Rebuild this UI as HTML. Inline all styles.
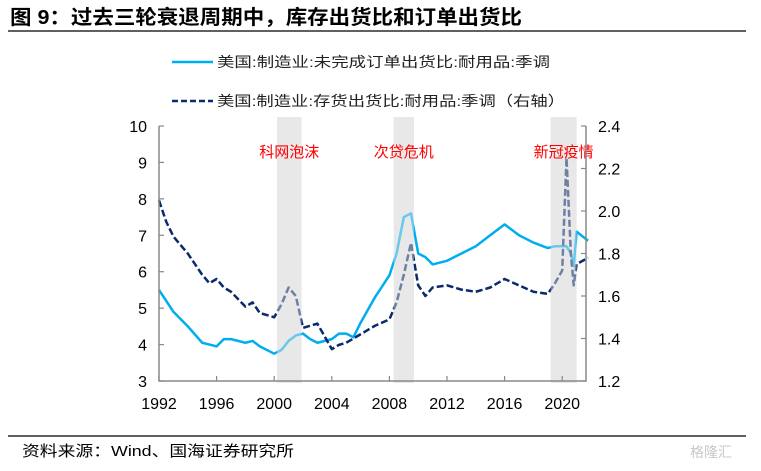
<!DOCTYPE html>
<html><head><meta charset="utf-8">
<style>
body{margin:0;background:#fff;width:761px;height:471px;overflow:hidden;font-family:"Liberation Sans","Noto Sans CJK SC",sans-serif;}
svg{display:block}
</style></head>
<body>
<svg id="chart" width="761" height="471" xmlns="http://www.w3.org/2000/svg">
<text x="10" y="24" font-size="20" font-weight="bold" font-family="'Liberation Sans','Noto Sans CJK SC',sans-serif" fill="#000" textLength="512" lengthAdjust="spacingAndGlyphs">图 9：过去三轮衰退周期中，库存出货比和订单出货比</text>
<line x1="8" y1="31" x2="746" y2="31" stroke="#000" stroke-width="1.2"/>
<g font-size="14" font-family="'Liberation Sans','Noto Sans CJK SC',sans-serif" fill="#222">
<line x1="172" y1="62" x2="213" y2="62" stroke="#00aeef" stroke-width="2.5"/>
<text x="217" y="67" textLength="333" lengthAdjust="spacingAndGlyphs">美国:制造业:未完成订单出货比:耐用品:季调</text>
<line x1="172" y1="101" x2="213" y2="101" stroke="#0b2a6b" stroke-width="2.5" stroke-dasharray="6,3"/>
<text x="217" y="106" textLength="348" lengthAdjust="spacingAndGlyphs">美国:制造业:存货出货比:耐用品:季调（右轴）</text>
</g>
<g id="plot"></g>
<line x1="8" y1="436" x2="746" y2="436" stroke="#000" stroke-width="1.2"/>
<text x="22" y="456" font-size="15" font-family="'Liberation Sans','Noto Sans CJK SC',sans-serif" fill="#000" textLength="272" lengthAdjust="spacingAndGlyphs">资料来源：Wind、国海证券研究所</text>
<text x="690" y="457" font-size="14" font-family="'Liberation Sans','Noto Sans CJK SC',sans-serif" fill="#c8c8c8">格隆汇</text>
</svg>
<script>
const years=[1992,1992.5,1993,1994,1995,1995.5,1996,1996.5,1997,1998,1998.5,1999,2000,2000.5,2001,2001.5,2002,2002.5,2003,2004,2004.5,2005,2005.5,2006,2007,2008,2008.5,2009,2009.5,2010,2010.5,2011,2012,2013,2014,2015,2016,2017,2018,2019,2019.5,2020,2020.3,2020.6,2020.8,2021,2021.8];
const backlog=[5.5,5.2,4.9,4.5,4.05,4.0,3.95,4.15,4.15,4.05,4.1,3.95,3.75,3.85,4.1,4.25,4.3,4.15,4.05,4.15,4.3,4.3,4.2,4.6,5.3,5.9,6.5,7.5,7.6,6.5,6.4,6.2,6.3,6.5,6.7,7.0,7.3,7.0,6.8,6.65,6.7,6.7,6.7,6.5,6.15,7.1,6.85];
const inventory=[2.05,1.95,1.88,1.80,1.70,1.66,1.68,1.64,1.62,1.55,1.57,1.52,1.50,1.56,1.64,1.60,1.45,1.46,1.47,1.35,1.37,1.38,1.40,1.42,1.46,1.49,1.57,1.70,1.85,1.65,1.60,1.64,1.65,1.63,1.62,1.64,1.68,1.65,1.62,1.61,1.66,1.72,2.25,1.80,1.65,1.75,1.78];
const leftTicks=[3,4,5,6,7,8,9,10];
const rightTicks=["1.2","1.4","1.6","1.8","2.0","2.2","2.4"];
const xTicks=[1992,1996,2000,2004,2008,2012,2016,2020];
const bands=[[2000.2,2001.9,"科网泡沫"],[2008.3,2009.7,"次贷危机"],[2019.2,2021.0,"新冠疫情"]];

const X0=159,Y0=126,Y1=381,XEND=586;
const x=t=>X0+(t-1992)*14.4;
const yL=v=>Y1-(v-3)/7*(Y1-Y0);
const yR=v=>Y1-(v-1.2)/1.2*(Y1-Y0);
const NS="http://www.w3.org/2000/svg";
const g=document.getElementById('plot');
function mk(tag,attrs,parent){const e=document.createElementNS(NS,tag);for(const k in attrs)e.setAttribute(k,attrs[k]);(parent||g).appendChild(e);return e;}
const font="'Liberation Sans','Noto Sans CJK SC',sans-serif";

bands.forEach(b=>{
 const r=mk('rect',{x:x(b[0]),y:117,width:x(b[1])-x(b[0]),height:266,fill:'#e8e8e8'});
 
 
});
const pts1=years.map((t,i)=>x(t)+','+yL(backlog[i])).join(' ');
const l1=mk('polyline',{points:pts1,fill:'none',stroke:'#00aeef','stroke-width':2.5,'stroke-linejoin':'round'});


const pts2=years.map((t,i)=>x(t)+','+yR(inventory[i])).join(' ');
const l2=mk('polyline',{points:pts2,fill:'none',stroke:'#0b2a6b','stroke-width':2.5,'stroke-dasharray':'7,3','stroke-linejoin':'round'});


bands.forEach(b=>{
 const r=mk('rect',{x:x(b[0]),y:117,width:x(b[1])-x(b[0]),height:266,fill:'#e8e8e8',opacity:0.45});
 
 
 const t=mk('text',{x:(x(b[0])+x(b[1]))/2,y:157,'text-anchor':'middle','font-size':15,fill:'#ff0000','font-family':font});
 t.textContent=b[2];
 
 
});
const ax=mk('path',{d:`M${X0},${Y0}V${Y1}H${XEND}V${Y0}`,fill:'none',stroke:'#888','stroke-width':1.5});


leftTicks.forEach(v=>{
 mk('line',{x1:X0,x2:X0+5,y1:yL(v),y2:yL(v),stroke:'#888','stroke-width':1.2});
 const t=mk('text',{x:X0-12,y:yL(v)+6,'text-anchor':'end','font-size':16,fill:'#000','font-family':font});
 t.textContent=v;
 
 
});
rightTicks.forEach(v=>{
 const yy=yR(parseFloat(v));
 mk('line',{x1:XEND-5,x2:XEND,y1:yy,y2:yy,stroke:'#888','stroke-width':1.2});
 const t=mk('text',{x:XEND+12,y:yy+6,'font-size':16,fill:'#000','font-family':font});
 t.textContent=v;
 
 
});
xTicks.forEach(v=>{
 mk('line',{x1:x(v),x2:x(v),y1:Y1,y2:Y1-5,stroke:'#888','stroke-width':1.2});
 const t=mk('text',{x:x(v),y:409,'text-anchor':'middle','font-size':16,fill:'#000','font-family':font});
 t.textContent=v;
 
 
});
</script>
</body></html>
